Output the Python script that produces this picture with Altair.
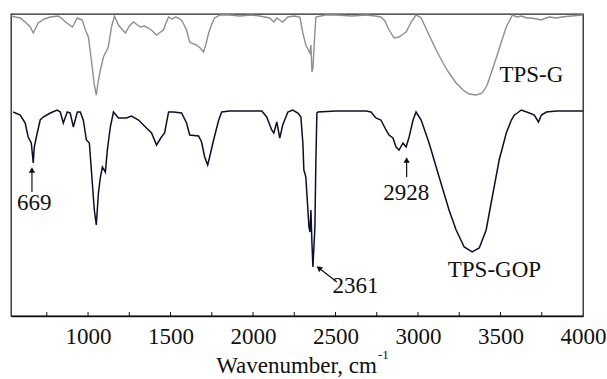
import altair as alt
import pandas as pd

# TPS-G (upper, gray) spectrum: wavenumber (cm-1) and offset transmittance (a.u.)
tps_g_wn = [534, 558, 589, 619, 650, 668, 698, 735, 771, 820, 845, 862, 880, 905, 935, 965, 984,
            1002, 1020, 1038, 1050, 1062, 1075, 1093, 1123, 1142, 1160, 1184, 1205, 1227, 1250,
            1275, 1300, 1318, 1340, 1366, 1390, 1415, 1440, 1457, 1470, 1488, 1510, 1530, 1549,
            1570, 1597, 1616, 1640, 1658, 1680, 1700, 1715, 1731, 1750, 1767, 1800, 1858, 1920,
            1986, 2040, 2101, 2126, 2144, 2162, 2180, 2211, 2250, 2284, 2302, 2320, 2345, 2351,
            2357, 2363, 2372, 2381, 2440, 2502, 2600, 2685, 2740, 2775, 2800, 2818, 2855, 2885,
            2910, 2928, 2958, 2988, 3019, 3067, 3110, 3152, 3188, 3231, 3273, 3310, 3353, 3389,
            3419, 3450, 3480, 3505, 3535, 3572, 3600, 3626, 3660, 3687, 3720, 3748, 3775, 3797,
            3840, 3870, 3930, 4000]
tps_g_t = [300, 299, 298, 294, 289, 283, 293, 297, 299, 300, 297, 294, 292, 289, 298, 296, 286,
           279, 256, 231, 221, 235, 246, 259, 269, 289, 300, 291, 287, 283, 290,
           294, 291, 289, 290, 288, 285, 281, 284, 286, 292, 299, 297, 299, 298,
           295, 286, 274, 272, 271, 268, 264, 272, 283, 292, 298, 301, 301, 300,
           301, 300, 298, 294, 298, 296, 294, 299, 300, 299, 283, 271, 263, 271,
           244, 248, 275, 299, 301, 301, 300, 301, 300, 299, 295, 288, 278, 279,
           282, 284, 294, 301, 298, 281, 266, 253, 243, 233, 226, 222, 221, 223,
           231, 246, 261, 274, 289, 301, 299, 300, 298, 298, 297, 296, 298, 299,
           298, 299, 300, 301]

# TPS-GOP (lower, black) spectrum
tps_gop_wn = [546, 589, 619, 637, 656, 668, 674, 692, 710, 728, 771, 813, 832, 850, 874, 892,
              911, 935, 953, 971, 990, 1008, 1020, 1038, 1050, 1063, 1075, 1087, 1105, 1117,
              1135, 1154, 1184, 1233, 1263, 1306, 1348, 1385, 1415, 1445, 1464, 1488, 1518,
              1567, 1597, 1616, 1670, 1688, 1707, 1725, 1737, 1761, 1792, 1810, 1858, 2053,
              2083, 2113, 2126, 2144, 2162, 2180, 2211, 2241, 2272, 2290, 2302, 2308, 2320,
              2339, 2345, 2351, 2357, 2363, 2375, 2381, 2387, 2393, 2502, 2685, 2715, 2745,
              2775, 2806, 2824, 2848, 2867, 2885, 2909, 2928, 2946, 2970, 2988, 3019, 3067,
              3128, 3188, 3231, 3280, 3328, 3371, 3413, 3450, 3492, 3535, 3566, 3584, 3602,
              3626, 3675, 3705, 3730, 3748, 3778, 3839, 4000]
tps_gop_t = [204, 201, 193, 179, 173, 153, 169, 183, 196, 199, 203, 206, 204, 193, 204, 203,
             189, 204, 204, 196, 176, 173, 146, 106, 91, 123, 139, 149, 144, 166,
             189, 204, 198, 198, 200, 196, 189, 183, 171, 179, 183, 204, 204,
             203, 193, 181, 180, 174, 159, 151, 159, 176, 196, 204, 205, 205,
             199, 186, 183, 194, 178, 191, 204, 206, 203, 199, 173, 146, 139,
             89, 84, 106, 73, 49, 89, 156, 203, 204, 205, 205, 204, 198,
             196, 186, 181, 178, 169, 166, 173, 169, 179, 196, 204, 196, 173,
             139, 106, 86, 69, 64, 68, 86, 119, 156, 183, 196, 201, 203,
             206, 203, 201, 194, 201, 204, 205, 205]

# annotations
label_text = ["669", "2928", "2361", "TPS-G", "TPS-GOP"]
label_wn = [674, 2928, 2621, 3687, 3463]
label_t = [106, 116, 23, 234, 39]

arrow_tail_wn = [660, 2931, 2508]
arrow_tail_t = [124, 139, 34]
arrow_head_wn = [660, 2931, 2399]
arrow_head_t = [146, 156, 48]
arrow_angle = [0, 0, 308]

tick_values = [750, 1000, 1250, 1500, 1750, 2000, 2250, 2500, 2750, 3000, 3250, 3500, 3750]
label_values = [1000, 1500, 2000, 2500, 3000, 3500, 4000]

FONT = "'Liberation Serif', 'Times New Roman', Times, serif"
xs = alt.Scale(domain=[533, 4000], nice=False, zero=False)
ys = alt.Scale(domain=[0, 302], nice=False, zero=False)

df_g = pd.DataFrame({"wn": tps_g_wn, "t": tps_g_t})
df_gop = pd.DataFrame({"wn": tps_gop_wn, "t": tps_gop_t})
df_lab = pd.DataFrame({"text": label_text, "wn": label_wn, "t": label_t})
df_arr = pd.DataFrame({"wn": arrow_tail_wn, "t": arrow_tail_t,
                       "wn2": arrow_head_wn, "t2": arrow_head_t, "ang": arrow_angle})
df_ticks = pd.DataFrame({"wn": tick_values, "t": [0] * len(tick_values), "t2": [4] * len(tick_values)})
df_title = pd.DataFrame({"text": ["Wavenumber, cm"], "wn": [2751], "t": [-57]})
df_sup = pd.DataFrame({"text": ["-1"], "wn": [2757], "t": [-43]})

x_axis = alt.Axis(values=label_values, format="d", tickSize=0, labelFont=FONT, labelFontSize=23,
                  labelColor="#111", labelPadding=9, labelFlush=False, labelOverlap=False,
                  labelBound=False, domainColor="#111", domainWidth=1.3,
                  grid=False, title=None)

line_g = alt.Chart(df_g).mark_line(color="#8e8e8e", strokeWidth=1.4).encode(
    x=alt.X("wn:Q", scale=xs, axis=x_axis),
    y=alt.Y("t:Q", scale=ys, axis=None),
)
line_gop = alt.Chart(df_gop).mark_line(color="#0c0f2b", strokeWidth=1.5).encode(
    x=alt.X("wn:Q", scale=xs),
    y=alt.Y("t:Q", scale=ys),
)
ticks = alt.Chart(df_ticks).mark_rule(color="#111", strokeWidth=1).encode(
    x=alt.X("wn:Q", scale=xs), y=alt.Y("t:Q", scale=ys), y2="t2:Q"
)
labels = alt.Chart(df_lab).mark_text(font=FONT, fontSize=23, color="#111",
                                      align="center", baseline="alphabetic").encode(
    x=alt.X("wn:Q", scale=xs), y=alt.Y("t:Q", scale=ys), text="text:N"
)
arrow_lines = alt.Chart(df_arr).mark_rule(color="#111", strokeWidth=1.2).encode(
    x=alt.X("wn:Q", scale=xs), y=alt.Y("t:Q", scale=ys), x2="wn2:Q", y2="t2:Q"
)
arrow_heads = alt.Chart(df_arr).mark_point(shape="triangle-up", filled=True, size=40,
                                           color="#111", opacity=1).encode(
    x=alt.X("wn2:Q", scale=xs), y=alt.Y("t2:Q", scale=ys),
    angle=alt.Angle("ang:Q", scale=None)
)
title = alt.Chart(df_title).mark_text(font=FONT, fontSize=23, color="#111",
                                       align="right", baseline="alphabetic").encode(
    x=alt.X("wn:Q", scale=xs), y=alt.Y("t:Q", scale=ys), text="text:N"
)
sup = alt.Chart(df_sup).mark_text(font=FONT, fontSize=13, color="#111",
                                   align="left", baseline="alphabetic").encode(
    x=alt.X("wn:Q", scale=xs), y=alt.Y("t:Q", scale=ys), text="text:N"
)

chart = alt.layer(line_g, line_gop, ticks, arrow_lines, arrow_heads, labels, title, sup).properties(
    width=572, height=302,
    autosize=alt.AutoSizeParams(type="none"),
    padding={"left": 11, "top": 14, "right": 24, "bottom": 63},
    background="white",
).configure_view(stroke="#222", strokeWidth=1.3)

chart.save("out.html", embed_options={"renderer": "svg", "actions": False})
